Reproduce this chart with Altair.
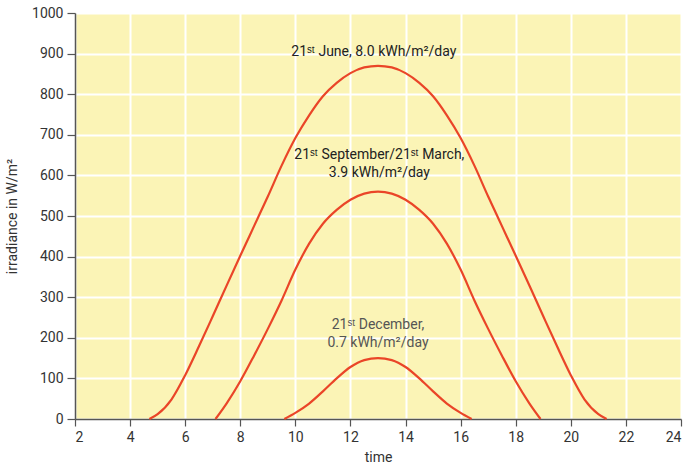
import altair as alt
import pandas as pd

# --- data ---
hours_june = [4.7, 5, 5.5, 6, 6.5, 7, 7.5, 8, 8.5, 9, 9.5, 10, 10.5, 11, 11.5, 12, 12.5, 13,
              13.5, 14, 14.5, 15, 15.5, 16, 16.5, 17, 17.5, 18, 18.5, 19, 19.5, 20, 20.5, 21, 21.3]
irr_june = [0, 12, 48, 108, 179, 253, 328, 402, 475, 548, 624, 692, 748, 795, 828, 852, 866, 870,
            866, 852, 828, 795, 748, 692, 624, 548, 475, 402, 328, 253, 179, 108, 48, 12, 0]

hours_equinox = [7.1, 7.5, 8, 8.5, 9, 9.5, 10, 10.5, 11, 11.5, 12, 12.5, 13,
                 13.5, 14, 14.5, 15, 15.5, 16, 16.5, 17, 17.5, 18, 18.5, 18.9]
irr_equinox = [0, 38, 93, 156, 222, 292, 368, 432, 481, 515, 540, 555, 560,
               555, 540, 515, 481, 432, 368, 292, 222, 156, 93, 38, 0]

hours_dec = [9.6, 10, 10.5, 11, 11.5, 12, 12.5, 13, 13.5, 14, 14.5, 15, 15.5, 16, 16.4]
irr_dec = [0, 15, 38, 68, 100, 128, 145, 150, 145, 128, 100, 68, 38, 15, 0]

label_text = [
    "21ˢᵗ June, 8.0 kWh/m²/day",
    "21ˢᵗ September/21ˢᵗ March,",
    "3.9 kWh/m²/day",
    "21ˢᵗ December,",
    "0.7 kWh/m²/day",
]
label_time = [12.85, 13.05, 13.05, 13.0, 13.0]
label_irr = [904, 650, 606, 231, 187]
label_group = ["dark", "dark", "dark", "light", "light"]

x_ticks = list(range(2, 25))
y_ticks = list(range(0, 1001, 50))

rows = []
for name, hs, vs in [("June", hours_june, irr_june),
                     ("Equinox", hours_equinox, irr_equinox),
                     ("December", hours_dec, irr_dec)]:
    for h, v in zip(hs, vs):
        rows.append({"series": name, "time": h, "irr": v})
df = pd.DataFrame(rows)

labels = pd.DataFrame({"text": label_text, "time": label_time,
                       "irr": label_irr, "group": label_group})

FONT = "Roboto, sans-serif"

x_enc = alt.X(
    "time:Q",
    scale=alt.Scale(domain=[2, 24], nice=False, zero=False),
    axis=alt.Axis(
        values=x_ticks,
        format="d",
        labelExpr="datum.value % 2 == 0 ? datum.label : ''",
        tickSize={"condition": {"test": "datum.value % 2 == 0", "value": 7}, "value": 5},
        gridOpacity={"condition": {"test": "datum.value % 2 == 0", "value": 1}, "value": 0},
        title="time",
        titlePadding=6,
        labelPadding=4,
        labelOverlap=False,
    ),
)
y_enc = alt.Y(
    "irr:Q",
    scale=alt.Scale(domain=[0, 1000], nice=False),
    axis=alt.Axis(
        values=y_ticks,
        format="d",
        labelExpr="datum.value % 100 == 0 ? datum.label : ''",
        tickSize={"condition": {"test": "datum.value % 100 == 0", "value": 8}, "value": 5},
        gridOpacity={"condition": {"test": "datum.value % 100 == 0", "value": 1}, "value": 0},
        title="irradiance in W/m²",
        titleX=-56,
        labelPadding=4,
        labelOverlap=False,
    ),
)

lines = alt.Chart(df).mark_line(
    color="#EA4528", strokeWidth=2.2, interpolate="monotone"
).encode(x=x_enc, y=y_enc, detail="series:N")

texts = alt.Chart(labels).mark_text(
    font=FONT, fontSize=14, align="center", baseline="middle"
).encode(
    x="time:Q",
    y="irr:Q",
    text="text:N",
    color=alt.Color("group:N", scale=alt.Scale(domain=["dark", "light"],
                                               range=["#222222", "#555555"]),
                    legend=None),
)

chart = alt.layer(lines, texts).properties(
    width=606, height=406,
    autosize="none",
    padding={"left": 75, "top": 13, "right": 19, "bottom": 55},
    background="white",
).configure_view(
    fill="#FBF4B6", stroke=None
).configure_axis(
    domainColor="#555555", domainWidth=1.5,
    tickColor="#555555", tickWidth=1.2,
    labelColor="#333333", labelFont=FONT, labelFontSize=14,
    titleColor="#333333", titleFont=FONT, titleFontSize=14, titleFontWeight="normal",
    gridColor="white", gridWidth=2,
)

chart.save("out.html", embed_options={"renderer": "svg", "actions": False})
